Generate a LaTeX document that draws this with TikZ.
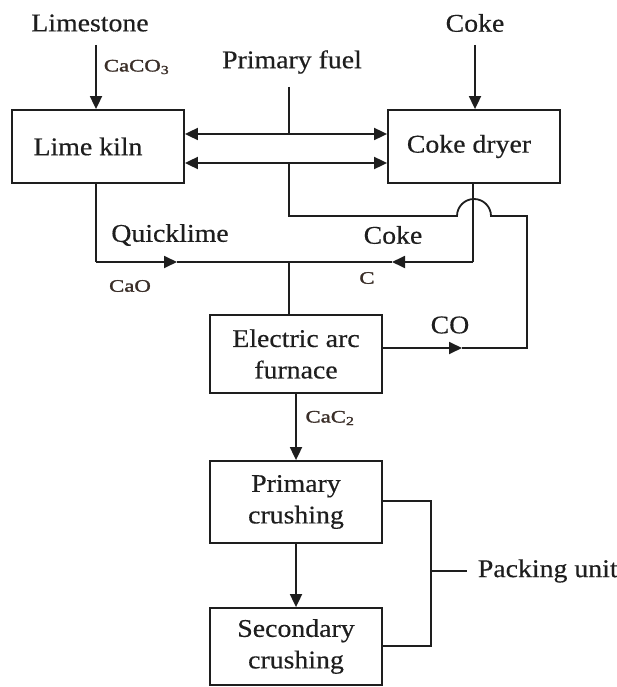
\documentclass[tikz,border=0pt]{standalone}
\usepackage{fontspec}
\setmainfont[FakeStretch=1.09,FakeBold=0.4]{Liberation Serif}
\newfontfamily\labfont[FakeStretch=1.3,FakeBold=1.6]{Liberation Serif}
\usetikzlibrary{arrows.meta}
\definecolor{ink}{HTML}{1E1E1E}
\definecolor{labink}{HTML}{3A2E28}
\newcommand\mainsz{\fontsize{25.5}{31.5}\selectfont}
\newcommand\labsz{\labfont\fontsize{17.5}{20}\selectfont}
\begin{document}
\begin{tikzpicture}[x=1pt,y=-1pt,line width=1.8pt,
  every node/.style={text=ink},
  box/.style={draw=ink,rectangle,inner sep=0pt,align=center,font=\mainsz,minimum width=172pt},
  txt/.style={inner sep=0pt,font=\mainsz,align=center},
  lab/.style={inner sep=0pt,font=\labsz,text=labink},
  arr/.style={-{Triangle[length=13pt,width=12pt]}},
  darr/.style={{Triangle[length=13pt,width=12pt]}-{Triangle[length=13pt,width=12pt]}}]
\useasboundingbox (0,0) rectangle (617,687);
\begin{scope}[draw=ink]
% boxes
\node[box,minimum height=73pt] (kiln) at (98,146.5) {Lime kiln\hspace*{20pt}};
\node[box,minimum height=73pt] (dryer) at (474,146.5) {Coke dryer\hspace*{10pt}};
\node[box,minimum height=78pt] (eaf) at (296,354) {Electric arc\\furnace};
\node[box,minimum height=82pt] (prim) at (296,502) {Primary\\crushing};
\node[box,minimum height=77pt] (sec) at (296,646.5) {Secondary\\crushing};
% text labels
\node[txt] (limestone) at (90,23) {Limestone};
\node[txt] (coketop) at (475,23) {Coke};
\node[txt] (fuel) at (292,62) {Primary fuel};
\node[txt] (quick) at (170,235) {Quicklime};
\node[txt] (cokemid) at (393,235) {Coke};
\node[txt] (co) at (450,325) {CO};
\node[txt,anchor=west] (pack) at (477,571) {Packing unit};
\node[lab,anchor=west] (caco3) at (103,67) {CaCO\textsubscript{3}};
\node[lab] (cao) at (130,286) {CaO};
\node[lab] (c) at (367,278) {C};
\node[lab] (cac2) at (330,418) {CaC\textsubscript{2}};
% coordinates
\coordinate (lsT) at (96,45);
\coordinate (ckT) at (475,45);
\coordinate (fuelT) at (289,87);
\coordinate (fuelA) at (289,134);
\coordinate (fuelB) at (289,163);
\coordinate (fuelC) at (289,216);
\coordinate (humpL) at (457,216);
\coordinate (loopTR) at (527,216);
\coordinate (loopBR) at (527,348);
\coordinate (coTip) at (462,348);
\coordinate (kilnB) at (96,262);
\coordinate (qTip) at (177,262);
\coordinate (join) at (289,262);
\coordinate (dryB) at (473,262);
\coordinate (cTip) at (392,262);
\coordinate (packR) at (431,571);
\coordinate (packL) at (467,571);
% feed arrows
\draw[arr] (lsT) -- (lsT |- kiln.north);
\draw[arr] (ckT) -- (ckT |- dryer.north);
% double arrows between kiln and dryer
\draw[darr] (kiln.east |- fuelA) -- (dryer.west |- fuelA);
\draw[darr] (kiln.east |- fuelB) -- (dryer.west |- fuelB);
% primary fuel / CO line
\draw (fuelT) -- (fuelA);
\draw (fuelB) -- (fuelC) -- (humpL) arc[start angle=180,end angle=0,radius=17pt] -- (loopTR) -- (loopBR) -- (coTip);
\draw[arr] (eaf.east |- coTip) -- (coTip);
% quicklime and coke to furnace
\draw (kilnB |- kiln.south) -- (kilnB);
\draw[arr] (kilnB) -- (qTip);
\draw (qTip) -- (join);
\draw (dryB |- dryer.south) -- (dryB);
\draw[arr] (dryB) -- (cTip);
\draw (cTip) -- (join);
\draw (join) -- (join |- eaf.north);
% product line
\draw[arr] (eaf.south) -- (prim.north);
\draw[arr] (prim.south) -- (sec.north);
% packing bracket
\draw (prim.east |- 0,501) -- (packR |- 0,501) -- (packR |- 0,646) -- (sec.east |- 0,646);
\draw (packR) -- (packL);
\end{scope}
\end{tikzpicture}
\end{document}
